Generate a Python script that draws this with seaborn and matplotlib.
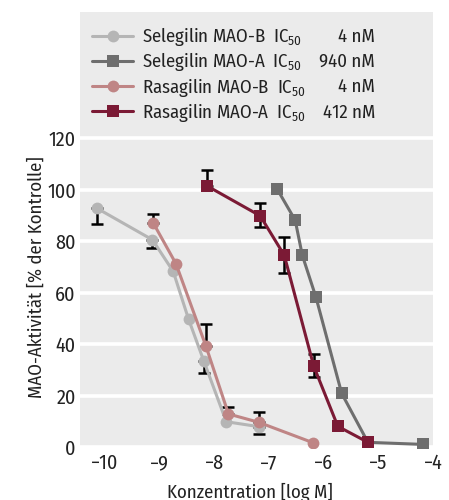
import numpy as np
import pandas as pd
import matplotlib
matplotlib.use("Agg")
import matplotlib.pyplot as plt
from matplotlib.lines import Line2D
import seaborn as sns

# data (log M, % of control)
sel_b_x = [-10.15, -9.13, -8.75, -8.47, -8.19, -7.78, -7.19]
sel_b_y = [92.9, 80.6, 68.3, 49.8, 33.5, 10.0, 8.1]
sel_b_lo = [6.1, 3.0, 0, 0, 4.5, 0, 2.9]
sel_b_hi = [0, 0, 0, 0, 0, 0, 0]

sel_a_x = [-6.85, -6.52, -6.39, -6.14, -5.67, -5.19, -4.19]
sel_a_y = [100.3, 88.2, 74.6, 58.3, 21.0, 2.0, 1.2]

ras_b_x = [-9.12, -8.70, -8.15, -7.74, -7.19, -6.20]
ras_b_y = [87.3, 71.3, 39.2, 13.0, 9.8, 1.9]
ras_b_lo = [0, 0, 0, 0, 0, 0]
ras_b_hi = [3.3, 0, 8.6, 2.6, 4.1, 0]

ras_a_x = [-8.14, -7.16, -6.72, -6.18, -5.74, -5.19]
ras_a_y = [101.6, 89.9, 74.6, 31.5, 8.2, 2.0]
ras_a_lo = [0, 4.5, 7.0, 4.0, 0, 0]
ras_a_hi = [6.2, 4.9, 6.9, 4.7, 0, 0]

names = ["Selegilin MAO-B", "Selegilin MAO-A", "Rasagilin MAO-B", "Rasagilin MAO-A"]
ic50 = ["4 nM", "940 nM", "4 nM", "412 nM"]
colors = ["#b5b5b5", "#6e6e6e", "#bf8585", "#7b1a35"]
markers = ["o", "s", "o", "s"]

FONT = "Fira Sans Condensed"
sns.set_theme(style="white")
plt.rcParams["font.family"] = [FONT, "DejaVu Sans"]
plt.rcParams["font.weight"] = "normal"
plt.rcParams["mathtext.fontset"] = "custom"
plt.rcParams["mathtext.rm"] = FONT
plt.rcParams["mathtext.it"] = FONT
plt.rcParams["mathtext.bf"] = FONT

fig = plt.figure(figsize=(4.49, 5), dpi=100)
ax = fig.add_axes([80 / 449, 52 / 500, 353 / 449, 436 / 500])
ax.set_facecolor("#ebebeb")

series = [
    (sel_b_x, sel_b_y, sel_b_lo, sel_b_hi),
    (sel_a_x, sel_a_y, None, None),
    (ras_b_x, ras_b_y, ras_b_lo, ras_b_hi),
    (ras_a_x, ras_a_y, ras_a_lo, ras_a_hi),
]

for i, (xs, ys, lo, hi) in enumerate(series):
    df = pd.DataFrame({"x": xs, "y": ys})
    if lo is not None:
        lo_a, hi_a = np.array(lo), np.array(hi)
        keep = (lo_a > 0) | (hi_a > 0)
        ax.errorbar(np.array(xs)[keep], np.array(ys)[keep],
                    yerr=[lo_a[keep], hi_a[keep]], fmt="none",
                    ecolor="black", elinewidth=1.8, capsize=4.5,
                    capthick=1.8, zorder=2 + i * 0.1)
    sns.lineplot(data=df, x="x", y="y", ax=ax, color=colors[i],
                 marker=markers[i], markersize=8.5,
                 markeredgewidth=0, linewidth=2.2, sort=False,
                 zorder=3 + i * 0.1)

ax.set_xlim(-10.455, -4.036)
ax.set_ylim(-0.2, 169)
ax.set_xticks(range(-10, -3))
ax.set_yticks(range(0, 121, 20))
ax.yaxis.grid(True, color="white", linewidth=2.6)
ax.set_axisbelow(True)
for s in ax.spines.values():
    s.set_visible(False)
ax.tick_params(axis="x", direction="in", length=9, width=2.6, color="white",
               labelsize=14.5, labelcolor="#222222", pad=4)
ax.tick_params(axis="y", length=0, labelsize=14.5, labelcolor="#222222", pad=3)

ax.set_xlabel("Konzentration [log M]", fontsize=13.5, color="#222222")
ax.set_ylabel("MAO-Aktivität [% der Kontrolle]", fontsize=13.5, color="#222222")
ax.yaxis.set_label_coords(-0.097, 0.392)
ax.xaxis.set_label_coords(0.48, -0.080)

handles = [Line2D([], [], color=c, marker=m, markersize=8.5, markeredgewidth=0,
                  linewidth=2.2) for c, m in zip(colors, markers)]
labels = [n + "  IC$_{50}$" for n in names]
leg = ax.legend(handles, labels, loc="upper left",
                bbox_to_anchor=(0.034, 0.970), frameon=False, fontsize=13.5,
                handlelength=2.2, handletextpad=0.45, labelspacing=0.12,
                borderpad=0, borderaxespad=0)
for t in leg.get_texts():
    t.set_color("#222222")

fig.canvas.draw()
inv = ax.transAxes.inverted()
for t, val in zip(leg.get_texts(), ic50):
    bb = t.get_window_extent()
    yc = inv.transform((0, (bb.y0 + bb.y1) / 2))[1]
    ax.text(0.836, yc, val, transform=ax.transAxes, ha="right", va="center",
            fontsize=13.5, color="#222222")

fig.savefig("out.png", dpi=100)
